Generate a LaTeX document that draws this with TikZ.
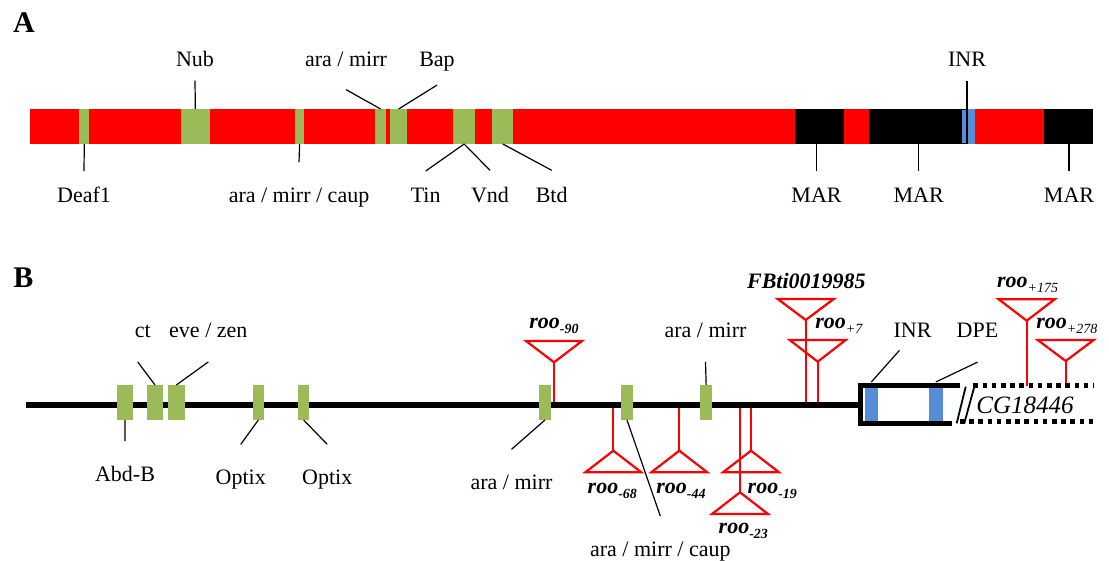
\documentclass[tikz,border=0pt]{standalone}
\usepackage{fontspec}
\setmainfont{Liberation Serif}
\usetikzlibrary{positioning, fit}

\definecolor{siteGreen}{RGB}{155,187,89}
\definecolor{siteBlue}{RGB}{85,142,213}
\definecolor{teRed}{RGB}{255,0,0}

\newcommand{\rooMinus}[1]{\textbf{\textit{roo}}\raisebox{-2.8pt}{\scriptsize\textbf{\textit{#1}}}}
\newcommand{\rooPlus}[1]{\textbf{\textit{roo}}\raisebox{-2.8pt}{\scriptsize\textit{#1}}}

\begin{document}
\begin{tikzpicture}[
    x=0.5pt, y=-0.5pt,
    font=\fontsize{11}{13}\selectfont,
    seg/.style={
      inner sep=0pt,
      outer sep=0pt,
      draw=none
    },
    site/.style={seg, fill=siteGreen},
    mar/.style={seg, fill=black},
    lbl/.style={anchor=base, inner sep=0pt},
    roolbl/.style={anchor=base west, inner sep=0pt},
    panel/.style={
      anchor=base,
      inner sep=0pt,
      font=\fontsize{15}{18}\selectfont\bfseries
    },
    lead/.style={line width=0.6pt},
    te/.style={draw=teRed, line width=1.1pt},
    chrom/.style={line width=2.5pt},
    dotline/.style={line width=2.5pt, dash pattern=on 2.3pt off 2.3pt},
]

\newcommand{\teMark}[4]{%
  \draw[te, line join=miter] (#2-28,#3) -- (#2+28,#3) -- (#2,#4) -- cycle;
  \coordinate (#1) at (#2,#4);
}

\useasboundingbox (0,0) rectangle (1109,561);

% Panel A
\node[panel] (labA) at (24,32.3) {A};

\node[seg, fill=teRed, fit={(30.3,109) (1093.3,144)}] (barA) {};
\foreach \n/\a/\b in {deaf/79.3/89.3, nub/181/209.7, amcA/295.3/304,
    amA/375.3/386, bap/390/407.3, tv/453.3/475, btd/492.3/513.3}
  \node[site, fit={(\a,109) (\b,144)}] (\n) {};
\foreach \n/\a/\b in {mar1/794.7/844, mar2/869/960.7, mar3/1044.3/1093.3}
  \node[mar, fit={(\a,109) (\b,144)}] (\n) {};
\node[seg, fill=siteBlue, fit={(960.7,109) (975,144)}] (inrA) {};
\node[seg, draw=black, line width=0.6pt, fit={(961,109.5) (967,143.5)}] (inrBox) {};

% Labels A
\node[lbl] (nubL) at (195,67) {Nub};
\node[lbl] (amAL) at (346,67) {ara / mirr};
\node[lbl] (bapL) at (437,67) {Bap};
\node[lbl] (inrAL) at (967,67) {INR};
\node[lbl] (deafL) at (84,203) {Deaf1};
\node[lbl] (amcAL) at (299,203) {ara / mirr / caup};
\node[lbl] (tinL) at (425.7,203) {Tin};
\node[lbl] (vndL) at (490,203) {Vnd};
\node[lbl] (btdL) at (551.7,203) {Btd};
\node[lbl] (mar1L) at (816.5,203) {MAR};
\node[lbl] (mar2L) at (918.7,203) {MAR};
\node[lbl] (mar3L) at (1069,203) {MAR};

\draw[lead] (nub.north) -- ([yshift=-6.5pt]nubL.south);
\draw[lead] (amA.north) -- ([yshift=-11pt]amAL.south);
\draw[lead] (bap.north) -- ([yshift=-6.5pt]bapL.south);
\draw[lead] (inrBox.north east) -- ([yshift=-7pt]inrAL.south);
\draw[lead] (deaf.south) -- ([yshift=8pt]deafL.north);
\draw[lead] (amcA.south) -- ([yshift=13pt]amcAL.north);
\draw[lead] (tv.south) -- ([yshift=8.5pt]tinL.north);
\draw[lead] (tv.south) -- ([yshift=8.5pt]vndL.north);
\draw[lead] (btd.south) -- ([yshift=8.5pt]btdL.north);
\foreach \m in {mar1, mar2, mar3}
  \draw[lead] (\m L |- \m.south) -- ([yshift=8.5pt]\m L.north);

% Panel B
\node[panel] (labB) at (23.3,287.3) {B};

% Insertions
\teMark{r90}{554}{341}{362.3}
\teMark{r68}{613.3}{472.3}{450.7}
\teMark{r44}{679.3}{472.3}{450.7}
\teMark{r19}{751}{472.3}{450.7}
\teMark{r23}{740}{514}{492.3}
\teMark{fbti}{805.7}{299}{320}
\teMark{r7}{817.7}{340}{361.7}
\teMark{r175}{1026.7}{299.3}{320.7}
\teMark{r278}{1065.7}{340}{361}

\coordinate (chrS) at (26,405);
\coordinate (geneW) at (860,405);
\coordinate (dotT) at (973.3,385.7);
\coordinate (dotTE) at (1093.3,385.7);
\coordinate (dotB) at (960,421.5);
\coordinate (dotBE) at (1093.3,421.5);

\foreach \t in {r90, r68, r44, r19, r23, fbti, r7}
  \draw[te] (\t) -- (\t |- chrS);
\foreach \t in {r175, r278}
  \draw[te] (\t) -- (\t |- dotT);

\draw[chrom] (chrS) -- (geneW);

% Gene
\node[seg, fill=siteBlue, fit={(865,388) (877.7,421)}] (inrB) {};
\node[seg, fill=siteBlue, fit={(929,388) (942.7,421)}] (dpeB) {};
\draw[chrom, line join=miter] (960,385.7) -- (860,385.7) -- (860,423.3) -- (951.7,423.3);
\draw[line width=0.9pt] (965.7,386.7) -- (956.7,423.3);
\draw[line width=0.9pt] (974.3,386.7) -- (964.3,423.3);
\draw[dotline] (dotT) -- (dotTE);
\draw[dotline] (dotB) -- (dotBE);

% Sites B
\foreach \n/\a/\b in {abdb/116.7/133.3, ct/146.7/163.3, eve/168/184.7,
    opt1/252.7/264, opt2/298/309.3, am1/539/551, amcB/621/633, am2/700/712.3}
  \node[site, fit={(\a,385) (\b,420)}] (\n) {};

% Labels B
\node[lbl] (abdbL) at (125,481.7) {Abd-B};
\node[lbl] (ctL) at (142.7,337.3) {ct};
\node[lbl] (eveL) at (208.3,337.3) {eve / zen};
\node[lbl] (opt1L) at (240.7,484) {Optix};
\node[lbl] (opt2L) at (327.3,484) {Optix};
\node[lbl] (am1L) at (511.5,489.3) {ara / mirr};
\node[lbl] (amcBL) at (660.3,556) {ara / mirr / caup};
\node[lbl] (am2L) at (705.5,337.3) {ara / mirr};
\node[lbl] (inrBL) at (912.5,337.3) {INR};
\node[lbl] (dpeL) at (977.5,337.3) {DPE};
\node[lbl, font=\fontsize{12.5}{15}\selectfont\itshape] (cgL) at (1025,414) {CG18446};

\draw[lead] (abdb.south) -- ([yshift=12.5pt]abdbL.north);
\draw[lead] (ct.north) -- ([xshift=-2.5pt, yshift=-12pt]ctL.south);
\draw[lead] (eve.north) -- ([yshift=-12pt]eveL.south);
\draw[lead] (opt1.south) -- ([yshift=12.3pt]opt1L.north);
\draw[lead] (opt2.south) -- ([yshift=12.3pt]opt2L.north);
\draw[lead] (am1.south) -- ([yshift=12.5pt]am1L.north);
\draw[lead] (amcB.south) -- ([yshift=12.5pt]amcBL.north);
\draw[lead] (am2.north) -- ([yshift=-12pt]am2L.south);
\draw[lead] ([yshift=3pt]inrB.north) -- ([xshift=-6.5pt, yshift=-6.3pt]inrBL.south);
\draw[lead] ([yshift=3pt]dpeB.north) -- ([yshift=-12.2pt]dpeL.south);

\node[roolbl] (r90L) at (529,328.3) {\rooMinus{-90}};
\node[roolbl] (r68L) at (587.3,493.3) {\rooMinus{-68}};
\node[roolbl] (r44L) at (656,493.3) {\rooMinus{-44}};
\node[roolbl] (r19L) at (747.3,493.3) {\rooMinus{-19}};
\node[roolbl] (r23L) at (718.3,533.3) {\rooMinus{-23}};
\node[roolbl] (r7L) at (815,328.3) {\rooPlus{+7}};
\node[roolbl] (r175L) at (996.7,287.3) {\rooPlus{+175}};
\node[roolbl] (r278L) at (1036,328.3) {\rooPlus{+278}};
\node[roolbl, font=\fontsize{11}{13}\selectfont\bfseries\itshape] (fbtiL) at (746.7,289) {FBti0019985};

\end{tikzpicture}
\end{document}
